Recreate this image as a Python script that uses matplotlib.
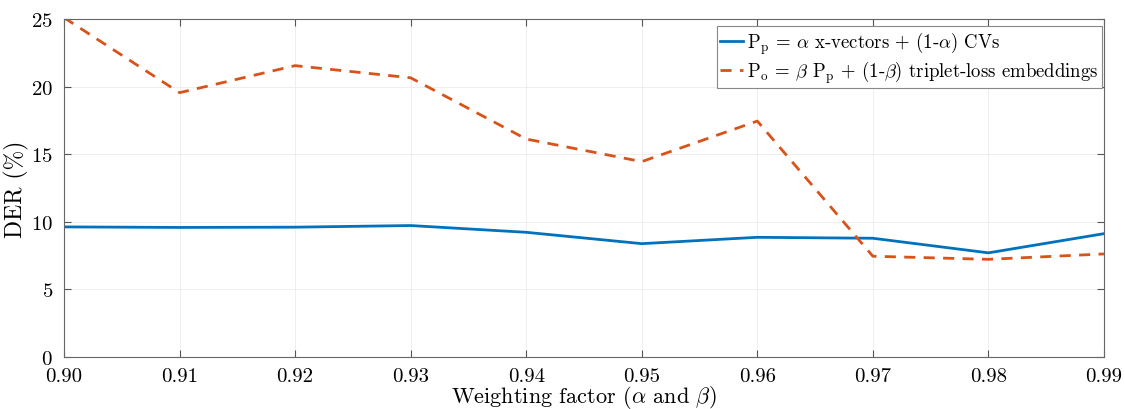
import matplotlib
matplotlib.use("Agg")
import matplotlib.pyplot as plt
import matplotlib.transforms as mtransforms

# weighting factor (alpha / beta)
weights = [0.90, 0.91, 0.92, 0.93, 0.94, 0.95, 0.96, 0.97, 0.98, 0.99]
# DER (%)
der_pp = [9.62, 9.58, 9.60, 9.72, 9.22, 8.38, 8.85, 8.78, 7.70, 9.12]
der_po = [25.1, 19.55, 21.55, 20.65, 16.12, 14.45, 17.45, 7.45, 7.22, 7.62]

label_pp = r'$\mathrm{P_p}$ = $\alpha$ x-vectors + (1-$\alpha$) CVs'
label_po = r'$\mathrm{P_o}$ = $\beta$ $\mathrm{P_p}$ + (1-$\beta$) triplet-loss embeddings'

plt.rcParams['font.family'] = 'serif'
plt.rcParams['font.serif'] = ['cmr10', 'DejaVu Serif']
plt.rcParams['mathtext.fontset'] = 'cm'
plt.rcParams['axes.formatter.use_mathtext'] = True

fig = plt.figure(figsize=(11.25, 4.1), dpi=100)
ax = fig.add_axes([0.0569, 0.127, 0.9244, 0.8242])

ax.plot(weights, der_pp, '-', color='#0072BD', lw=2, label=label_pp)
ax.plot(weights, der_po, '--', color='#D95319', lw=2, dashes=(4, 3), label=label_po)

ax.set_xlim(0.90, 0.99)
ax.set_ylim(0, 25)
ax.set_xticks(weights, labels=[f'{w:.2f}' for w in weights])
ax.set_yticks([0, 5, 10, 15, 20, 25])
ax.grid(True, color='#ebebeb', lw=0.6)
ax.tick_params(direction='in', top=True, right=True, labelsize=15, length=5,
               color='#555555')
ax.tick_params(axis='x', pad=7)
ax.tick_params(axis='y', pad=8)
for s in ax.spines.values():
    s.set_color('#666666')
    s.set_linewidth(0.8)

ax.set_xlabel(r'Weighting factor ($\alpha$ and $\beta$)', fontsize=16)
ax.xaxis.set_label_coords(0.5, -0.002,
                          transform=mtransforms.blended_transform_factory(ax.transAxes, fig.transFigure))
ax.xaxis.label.set_va('bottom')
ax.set_ylabel('DER (%)', fontsize=17, labelpad=1)

leg = ax.legend(loc='upper right', bbox_to_anchor=(0.998, 0.979), fontsize=13.5,
                fancybox=False, framealpha=1, edgecolor='#888888',
                borderpad=0.2, handlelength=1.2, handletextpad=0.2,
                labelspacing=0.1, borderaxespad=0)
leg.get_frame().set_linewidth(0.8)

fig.savefig('out.png', dpi=100)
